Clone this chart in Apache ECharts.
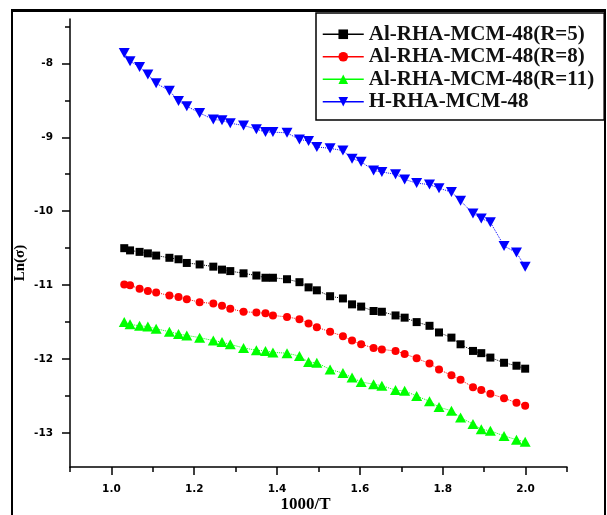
<!DOCTYPE html>
<html>
<head>
    <meta charset="utf-8">
    <title>Ln(σ) vs 1000/T</title>
    <script src="https://cdn.jsdelivr.net/npm/echarts@6/dist/echarts.min.js"></script>
    <style>
        *{ padding: 0; margin: 0; }
        body{ width: 607px; height: 515px; background: #fff; overflow: hidden; position: relative; }
        #chart{ position: absolute; left: 0; top: 0; width: 607px; height: 515px; }
        #frame{
            position: absolute; left: 11px; top: 9px; width: 591px; height: 520px;
            border: 2px solid #000; border-top-width: 3px; pointer-events: none;
        }
    </style>
</head>
<body>
    <div id="chart"></div>
    <div id="frame"></div>
<script>
    // 1000/T, shared by all four samples
    var invT = [1.031,1.045,1.068,1.088,1.108,1.140,1.162,1.182,1.213,1.246,1.267,1.287,1.319,
        1.350,1.372,1.390,1.424,1.454,1.476,1.496,1.528,1.559,1.581,1.603,1.633,1.653,1.686,
        1.708,1.737,1.768,1.791,1.821,1.843,1.873,1.893,1.915,1.948,1.978,1.999];

    var lnR5 = [-10.50,-10.53,-10.55,-10.57,-10.60,-10.63,-10.65,-10.70,-10.72,-10.75,-10.79,-10.81,-10.84,
        -10.87,-10.90,-10.90,-10.92,-10.96,-11.03,-11.07,-11.15,-11.18,-11.26,-11.29,-11.35,-11.36,-11.41,
        -11.44,-11.50,-11.55,-11.64,-11.71,-11.80,-11.89,-11.92,-11.98,-12.05,-12.09,-12.13];

    var lnR8 = [-10.99,-11.00,-11.05,-11.08,-11.10,-11.14,-11.16,-11.19,-11.23,-11.25,-11.28,-11.32,-11.36,
        -11.37,-11.38,-11.41,-11.43,-11.46,-11.52,-11.57,-11.63,-11.69,-11.75,-11.80,-11.85,-11.87,-11.89,
        -11.93,-11.99,-12.06,-12.14,-12.22,-12.28,-12.38,-12.42,-12.47,-12.53,-12.59,-12.63];

    var lnR11 = [-11.50,-11.53,-11.55,-11.56,-11.59,-11.63,-11.66,-11.68,-11.71,-11.75,-11.77,-11.80,-11.85,
        -11.88,-11.89,-11.91,-11.92,-11.96,-12.04,-12.05,-12.14,-12.19,-12.25,-12.31,-12.34,-12.36,-12.42,
        -12.43,-12.50,-12.57,-12.65,-12.70,-12.79,-12.88,-12.95,-12.97,-13.04,-13.09,-13.12];

    var lnH = [-7.86,-7.97,-8.05,-8.15,-8.27,-8.37,-8.51,-8.58,-8.67,-8.76,-8.77,-8.81,-8.84,
        -8.89,-8.93,-8.93,-8.94,-9.03,-9.05,-9.13,-9.15,-9.18,-9.29,-9.33,-9.45,-9.47,-9.50,
        -9.57,-9.62,-9.64,-9.69,-9.74,-9.86,-10.03,-10.10,-10.15,-10.47,-10.56,-10.75];

    var names = ['Al-RHA-MCM-48(R=5)', 'Al-RHA-MCM-48(R=8)', 'Al-RHA-MCM-48(R=11)', 'H-RHA-MCM-48'];
    var colors = ['#000000', '#ff0000', '#00ff00', '#0000ff'];

    var xMajor = [1.0, 1.2, 1.4, 1.6, 1.8, 2.0];
    var xMinor = [0.9, 1.1, 1.3, 1.5, 1.7, 1.9, 2.1];
    var yMajor = [-13, -12, -11, -10, -9, -8];
    var yMinor = [-13.5, -12.5, -11.5, -10.5, -9.5, -8.5, -7.5];

    function pairs(ys){
        var out = [];
        for (var i = 0; i < ys.length; i++) out.push([invT[i], ys[i]]);
        return out;
    }

    var tickFont = { color: '#000', fontFamily: 'DejaVu Sans', fontWeight: 'bold', fontSize: 10.5 };

    function mkSeries(idx, ys, symbol, size, rotate){
        return {
            name: names[idx], type: 'line',
            data: pairs(ys), symbol: symbol, symbolSize: size, symbolRotate: rotate || 0,
            showSymbol: true,
            itemStyle: { color: colors[idx] },
            lineStyle: { color: colors[idx], width: 1, type: 'dotted' }
        };
    }

    var chart = echarts.init(document.getElementById('chart'));
    chart.setOption({
        animation: false,
        grid: { left: 70, right: 40, top: 19, bottom: 48, outerBoundsMode: 'none', containLabel: false },
        legend: {
            orient: 'vertical', left: 316, top: 13,
            padding: [10, 10, 7, 6], itemGap: 0,
            itemWidth: 41, itemHeight: 12,
            borderColor: '#000', borderWidth: 1.5,
            lineStyle: { type: 'solid', width: 1.5 },
            textStyle: { fontFamily: 'Liberation Serif', fontWeight: 'bold', fontSize: 21, lineHeight: 22.5, color: '#111' },
            data: names
        },
        xAxis: [{
            type: 'value', min: 0.9, max: 2.1,
            name: '1000/T', nameLocation: 'middle', nameGap: 29, nameMoveOverlap: false,
            nameTextStyle: { fontFamily: 'Liberation Serif', fontWeight: 'bold', fontSize: 17, color: '#000', padding: [0, 26, 0, 0] },
            axisLine: { lineStyle: { color: '#000', width: 1.5 } },
            axisTick: { customValues: xMajor, length: 8, lineStyle: { color: '#000', width: 1.5 } },
            axisLabel: Object.assign({ customValues: xMajor, margin: 17, formatter: function(v){ return v.toFixed(1); } }, tickFont),
            splitLine: { show: false }
        }, {
            type: 'value', min: 0.9, max: 2.1, position: 'bottom',
            axisLine: { show: false },
            axisTick: { customValues: xMinor, length: 5, lineStyle: { color: '#000', width: 1.5 } },
            axisLabel: { show: false }, splitLine: { show: false }
        }],
        yAxis: [{
            type: 'value', min: -13.46, max: -7.4,
            name: 'Ln(σ)', nameLocation: 'middle', nameGap: 42, nameMoveOverlap: false,
            nameTextStyle: { fontFamily: 'Liberation Serif', fontWeight: 'bold', fontSize: 15, color: '#000', padding: [0, 40, 0, 0] },
            axisLine: { lineStyle: { color: '#000', width: 1.5 } },
            axisTick: { customValues: yMajor, length: 8, lineStyle: { color: '#000', width: 1.5 } },
            axisLabel: Object.assign({ customValues: yMajor, margin: 17 }, tickFont),
            splitLine: { show: false }
        }, {
            type: 'value', min: -13.46, max: -7.4, position: 'left',
            axisLine: { show: false },
            axisTick: { customValues: yMinor, length: 5, lineStyle: { color: '#000', width: 1.5 } },
            axisLabel: { show: false }, splitLine: { show: false }
        }],
        series: [
            mkSeries(0, lnR5, 'rect', 8),
            mkSeries(1, lnR8, 'circle', 8),
            mkSeries(2, lnR11, 'triangle', [11, 10]),
            mkSeries(3, lnH, 'triangle', [11, 10], 180)
        ]
    });
</script>
</body>
</html>
